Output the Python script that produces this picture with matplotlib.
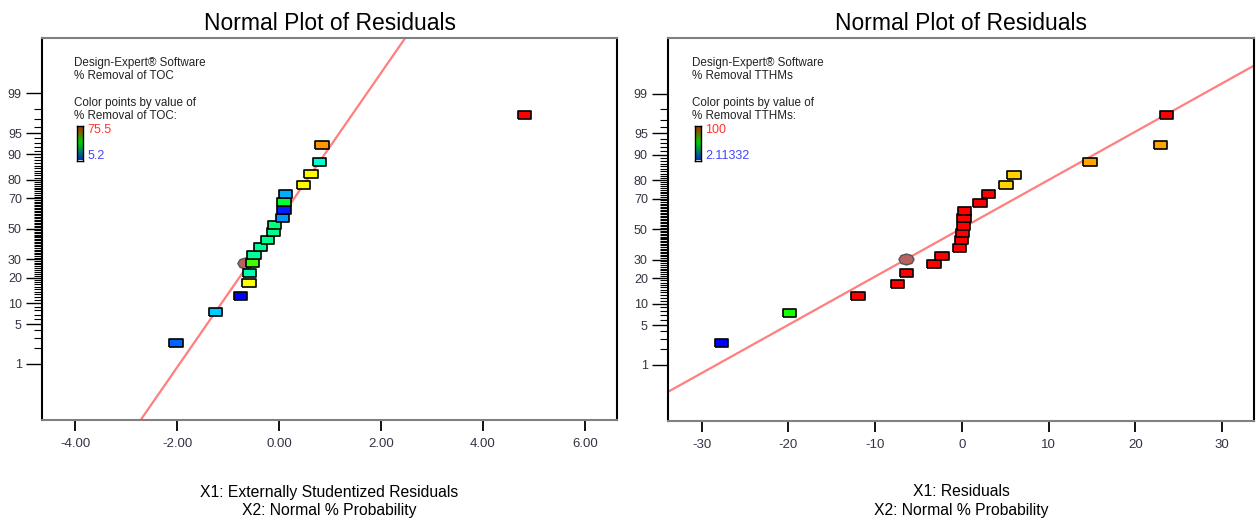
import numpy as np
import matplotlib.pyplot as plt
from matplotlib.colors import LinearSegmentedColormap
from statistics import NormalDist

plt.rcParams['font.family'] = ['Liberation Sans', 'DejaVu Sans']

W, H = 1256, 521

# --------------------------------------------------
# data
# --------------------------------------------------
prob_pct = [2.5, 7.5, 12.5, 17.5, 22.5, 27.5, 32.5, 37.5, 42.5, 47.5,
            52.5, 57.5, 62.5, 67.5, 72.5, 77.5, 82.5, 87.5, 92.5, 97.5]

# left: % Removal of TOC (externally studentized residuals)
toc_resid = [-2.02, -1.24, -0.75, -0.59, -0.58, -0.52, -0.49, -0.36, -0.22, -0.11,
             -0.09, 0.07, 0.10, 0.10, 0.13, 0.48, 0.63, 0.80, 0.84, 4.82]
toc_value = [12.2, 19.3, 5.2, 57.9, 28.4, 44.6, 29.8, 30.0, 31.0, 31.0,
             32.0, 15.7, 7.3, 36.8, 17.2, 58.0, 58.0, 26.3, 65.0, 75.5]
toc_range = (5.2, 75.5)
toc_fit = (-0.116, 0.79)      # mean, sd of the guide line
toc_mark = (-0.67, 27.5)

# right: % Removal TTHMs (residuals)
thm_resid = [-27.7, -19.9, -12.0, -7.4, -6.4, -3.2, -2.3, -0.31, -0.03, 0.08,
             0.2, 0.23, 0.27, 2.1, 3.1, 5.1, 6.0, 14.8, 22.9, 23.6]
thm_value = [2.11332, 53.0, 100, 100, 100, 100, 100, 100, 100, 100,
             100, 100, 100, 100, 100, 79.5, 79.5, 84.0, 84.0, 100]
thm_range = (2.11332, 100)
thm_fit = (-0.2, 12.08)
thm_mark = (-6.5, 30.5)

major_pct = [1, 5, 10, 20, 30, 50, 70, 80, 90, 95, 99]

nd = NormalDist()
def probit(p):
    return [nd.inv_cdf(v / 100.0) for v in p]

pt_cmap = LinearSegmentedColormap.from_list(
    'de', ['#0000ff', '#00ffff', '#00ff00', '#ffff00', '#ff0000'])
bar_cmap = LinearSegmentedColormap.from_list(
    'bar', ['#0030c0', '#00d000', '#c02000'])
rect = [(-1, -0.6), (1, -0.6), (1, 0.6), (-1, 0.6), (-1, -0.6)]
oval = [(np.cos(a), 0.72 * np.sin(a)) for a in np.linspace(0, 2 * np.pi, 9)]

fig = plt.figure(figsize=(W / 100, H / 100), dpi=100)


def px(x0, y0, x1, y1):
    return [x0 / W, 1 - y1 / H, (x1 - x0) / W, (y1 - y0) / H]


# --------------------------------------------------
# one normal plot panel
# --------------------------------------------------
def panel(box, resid, values, vrange, fit, mark, xlim, xticks, xfmt,
          name, vlabels, xlab, tx):
    ax = fig.add_axes(px(*box))
    z = probit(prob_pct)

    zl = np.array([-4.0, 4.0])
    ax.plot(fit[0] + fit[1] * zl, zl, color='#ff7f7f', lw=1.6, zorder=2)

    ax.scatter([mark[0]], probit([mark[1]]), marker=oval, s=11 ** 2,
               color='#b86262', edgecolors='#555555', linewidths=1.0, zorder=3)
    ax.scatter(resid, z, c=values, cmap=pt_cmap, vmin=vrange[0], vmax=vrange[1],
               marker=rect, s=9.6 ** 2, edgecolors='black', linewidths=1.2,
               zorder=4)

    ax.set_xlim(*xlim)
    ax.set_ylim(-3.29, 3.28)
    ax.set_xticks(xticks)
    ax.set_xticklabels([xfmt.format(v) for v in xticks])
    ax.set_yticks(probit(major_pct))
    ax.set_yticklabels([str(v) for v in major_pct])
    minor = [v for v in range(2, 99) if v not in major_pct]
    ax.set_yticks(probit(minor), minor=True)
    ax.tick_params(axis='y', which='major', length=11.5, width=1.0, pad=3,
                   labelsize=9, labelcolor='#333344')
    ax.tick_params(axis='y', which='minor', length=5.5, width=0.8)
    ax.tick_params(axis='x', length=8, width=1.3, pad=5, labelsize=9.5,
                   labelcolor='#333344')
    for s in ['left', 'right']:
        ax.spines[s].set_color('black')
        ax.spines[s].set_linewidth(1.5)
    for s in ['top', 'bottom']:
        ax.spines[s].set_color('#808080')
        ax.spines[s].set_linewidth(1.5)

    ax.set_title('Normal Plot of Residuals', fontsize=16.5, pad=6)

    # info text block
    lx = tx / W
    for yy, txt in [(62.7, 'Design-Expert® Software'), (75.7, name),
                    (102.7, 'Color points by value of'), (116, name + ':')]:
        fig.text(lx, 1 - yy / H, txt, fontsize=8.4, va='center', ha='left',
                 color='#222222')
    cax = fig.add_axes(px(tx + 2.5, 126, tx + 9, 160.5))
    cax.imshow(np.linspace(1, 0, 50)[:, None], aspect='auto', cmap=bar_cmap)
    cax.set_xticks([])
    cax.set_yticks([])
    for s in cax.spines.values():
        s.set_linewidth(1.0)
    fig.text((tx + 13.5) / W, 1 - 130 / H, vlabels[0], fontsize=9,
             color='#ff3333', va='center')
    fig.text((tx + 13.5) / W, 1 - 156 / H, vlabels[1], fontsize=9,
             color='#4444ff', va='center')

    cx = (box[0] + box[2]) / 2 / W
    fig.text(cx, 1 - 492 / H, xlab, fontsize=11.3, ha='center', va='center')
    fig.text(cx, 1 - 510 / H, 'X2: Normal % Probability', fontsize=11.3,
             ha='center', va='center')
    return ax


panel((42, 38, 617, 420), toc_resid, toc_value, toc_range, toc_fit, toc_mark,
      (-4.65, 6.63), [-4, -2, 0, 2, 4, 6], '{:.2f}',
      '% Removal of TOC', ['75.5', '5.2'],
      'X1: Externally Studentized Residuals', 74)

panel((668, 38, 1254, 421), thm_resid, thm_value, thm_range, thm_fit, thm_mark,
      (-33.9, 33.7), [-30, -20, -10, 0, 10, 20, 30], '{:d}',
      '% Removal TTHMs', ['100', '2.11332'],
      'X1: Residuals', 692)

fig.savefig('out.png', dpi=100)
